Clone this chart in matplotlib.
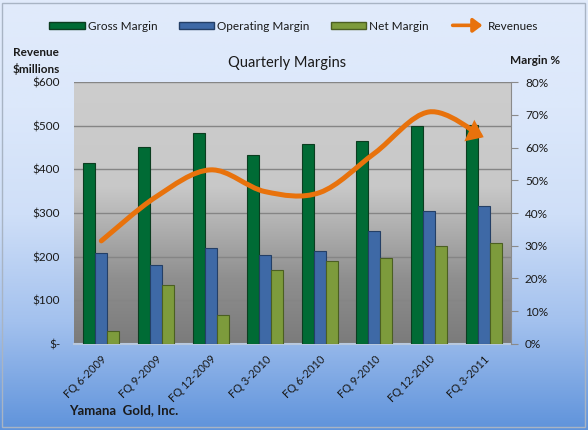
import numpy as np
import matplotlib
matplotlib.use('Agg')
import matplotlib.pyplot as plt
from matplotlib.path import Path
from matplotlib.patches import FancyArrowPatch, Patch, Rectangle
from matplotlib.legend_handler import HandlerBase
from matplotlib.colors import LinearSegmentedColormap

# ---------------- data ----------------
quarters = ['FQ 6-2009', 'FQ 9-2009', 'FQ 12-2009', 'FQ 3-2010',
            'FQ 6-2010', 'FQ 9-2010', 'FQ 12-2010', 'FQ 3-2011']
gross_margin = [55.4, 60.3, 64.4, 57.9, 61.0, 61.9, 66.5, 66.8]
operating_margin = [27.8, 24.2, 29.4, 27.2, 28.4, 34.6, 40.5, 42.0]
net_margin = [3.8, 17.9, 8.7, 22.6, 25.3, 26.3, 29.8, 30.9]
revenues = [236, 337, 399, 349, 347, 437, 532, 474]

rev_ticks = [0, 100, 200, 300, 400, 500, 600]
rev_tick_labels = ['$-', '$100', '$200', '$300', '$400', '$500', '$600']
margin_ticks = [0, 10, 20, 30, 40, 50, 60, 70, 80]
margin_tick_labels = ['0%', '10%', '20%', '30%', '40%', '50%', '60%', '70%', '80%']

# ---------------- style ----------------
FONT = ['Lato', 'DejaVu Sans']
plt.rcParams['font.family'] = FONT
C_GROSS, E_GROSS = '#006b35', '#0b3d20'
C_OPER, E_OPER = '#3e69a6', '#243f66'
C_NET, E_NET = '#7d9b3c', '#4b5f22'
C_REV = '#e8720c'
TXT = '#1a1a1a'

W, H = 588, 430
fig = plt.figure(figsize=(W / 100, H / 100), dpi=100)

# figure background gradient
bg = fig.add_axes([0, 0, 1, 1], zorder=-10)
bg_cmap = LinearSegmentedColormap.from_list(
    'bg', [(0.0, '#5f93db'), (0.25, '#a3c1ee'), (0.5, '#cfdff8'), (0.75, '#dce8fb'), (1.0, '#e1ebfb')])
bg.imshow(np.linspace(0, 1, 256).reshape(-1, 1), cmap=bg_cmap, aspect='auto',
          extent=[0, 1, 0, 1], origin='lower')
bg.set_xlim(0, 1); bg.set_ylim(0, 1)
bg.axis('off')
bg.add_patch(Rectangle((2 / W, 3 / H), 1 - 5 / W, 1 - 6 / H, fill=False,
                       edgecolor='#a8b4c4', lw=1, transform=bg.transAxes))

left, right = 74 / W, 511 / W
bottom, top = 1 - 343.7 / H, 1 - 82.3 / H
ax = fig.add_axes([left, bottom, right - left, top - bottom])
x = np.arange(len(quarters))
ax.set_xlim(-0.5, len(quarters) - 0.5)
ax.set_ylim(0, 600)

# plot area gradient
pa_cmap = LinearSegmentedColormap.from_list(
    'pa', [(0.0, '#7b7b7b'), (0.25, '#8f8f8f'), (0.45, '#b0b0b0'), (0.6, '#c8c8c8'), (1.0, '#cdcdcd')])
ax.imshow(np.linspace(0, 1, 256).reshape(-1, 1), cmap=pa_cmap, aspect='auto',
          extent=[-0.5, len(quarters) - 0.5, 0, 600], origin='lower', zorder=0)

ax.set_yticks(rev_ticks)
ax.set_yticklabels(rev_tick_labels)
ax.yaxis.grid(True, color='#858585', lw=1)
ax.tick_params(axis='y', length=0, pad=10, labelsize=8.5, labelcolor=TXT)
ax.set_xticks(x)
ax.set_xticklabels(quarters, rotation=45, ha='right', va='top', rotation_mode='anchor',
                   fontsize=8, color=TXT)
ax.tick_params(axis='x', length=0, pad=7)
for s in ['left', 'top', 'right']:
    ax.spines[s].set_visible(False)
ax.spines['bottom'].set_color('#b8c8de')
ax.spines['bottom'].set_linewidth(1.5)

# margins on right axis
ax2 = ax.twinx()
ax2.set_ylim(0, 80)
w = 0.22
ax2.bar(x - w, gross_margin, w, color=C_GROSS, edgecolor=E_GROSS, lw=0.8, zorder=2)
ax2.bar(x, operating_margin, w, color=C_OPER, edgecolor=E_OPER, lw=0.8, zorder=2)
ax2.bar(x + w, net_margin, w, color=C_NET, edgecolor=E_NET, lw=0.8, zorder=2)
ax2.set_yticks(margin_ticks)
ax2.set_yticklabels(margin_tick_labels)
ax2.tick_params(axis='y', length=5, direction='out', color='#8a8a8a', pad=5,
                labelsize=8.5, labelcolor=TXT)
for s in ['left', 'top', 'bottom']:
    ax2.spines[s].set_visible(False)
ax2.spines['right'].set_color('#8a8a8a')

# smoothed revenue line with arrow, on revenue scale
pts = np.column_stack([x, revenues]).astype(float)
n = len(pts)
verts = [pts[0]]
codes = [Path.MOVETO]
for i in range(n - 1):
    p0 = pts[max(i - 1, 0)]
    p1 = pts[i]
    p2 = pts[i + 1]
    p3 = pts[min(i + 2, n - 1)]
    c1 = p1 + (p2 - p0) / 6.0
    c2 = p2 - (p3 - p1) / 6.0
    verts += [c1, c2, p2]
    codes += [Path.CURVE4] * 3
rev_path = Path(verts, codes)
arrow = FancyArrowPatch(path=rev_path, arrowstyle='-|>,head_length=0.6,head_width=0.45',
                        mutation_scale=11, color=C_REV, lw=3.6, capstyle='round',
                        joinstyle='miter', transform=ax.transData, zorder=5)
ax2.add_artist(arrow)


# legend
class ArrowHandler(HandlerBase):
    def create_artists(self, legend, orig_handle, xdescent, ydescent, width, height, fontsize, trans):
        a = FancyArrowPatch((-xdescent, height / 2 - ydescent), (width - xdescent, height / 2 - ydescent),
                            arrowstyle='-|>,head_length=0.6,head_width=0.45', mutation_scale=9,
                            color=C_REV, lw=2.6, transform=trans)
        return [a]


rev_handle = FancyArrowPatch((0, 0), (1, 1))
handles = [Patch(facecolor=C_GROSS, edgecolor=E_GROSS),
           Patch(facecolor=C_OPER, edgecolor=E_OPER),
           Patch(facecolor=C_NET, edgecolor=E_NET),
           rev_handle]
labels = ['Gross Margin', 'Operating Margin', 'Net Margin', 'Revenues']
fig.legend(handles, labels, loc='center', bbox_to_anchor=(0.5, 1 - 26 / H), ncol=4,
           frameon=False, fontsize=8.5, handlelength=3.0, handleheight=0.6,
           handletextpad=0.25, columnspacing=1.8, labelcolor=TXT,
           handler_map={FancyArrowPatch: ArrowHandler()})

# texts
fig.text(13 / W, 1 - 61 / H, 'Revenue\n$millions', fontsize=8.5, fontweight='bold',
         ha='left', va='center', linespacing=1.45, color=TXT)
fig.text(287 / W, 1 - 63 / H, 'Quarterly Margins', fontsize=10.5, ha='center', va='center', color=TXT)
fig.text(535 / W, 1 - 60 / H, 'Margin %', fontsize=8.5, fontweight='bold', ha='center', va='center', color=TXT)
fig.text(69 / W, 1 - 410 / H, 'Yamana  Gold, Inc.', fontsize=9.5, fontweight='bold',
         ha='left', va='center', color=TXT)

fig.savefig('out.png', dpi=100)
